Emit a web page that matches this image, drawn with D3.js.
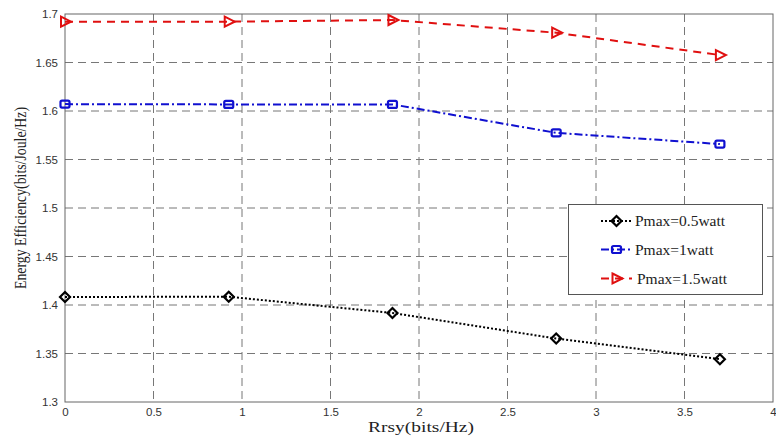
<!DOCTYPE html>
<html><head><meta charset="utf-8">
<script src="https://cdn.jsdelivr.net/npm/d3@7"></script>
<style>body{margin:0;background:#fff}svg{display:block}</style>
</head><body>
<svg id="c" width="776" height="436"></svg>
<script>
const xValues = [0, 0.925, 1.85, 2.775, 3.7];
const series05 = [1.4083, 1.4085, 1.3918, 1.3654, 1.3441];
const series1 = [1.6071, 1.6068, 1.6068, 1.5775, 1.5659];
const series15 = [1.6921, 1.6921, 1.6938, 1.6807, 1.6577];
const seriesNames = ["Pmax=0.5watt", "Pmax=1watt", "Pmax=1.5watt"];
const xTicks = [0, 0.5, 1, 1.5, 2, 2.5, 3, 3.5, 4];
const yTicks = [1.3, 1.35, 1.4, 1.45, 1.5, 1.55, 1.6, 1.65, 1.7];

const svg = d3.select("#c");
const L = 65, R = 773, T = 14, B = 402;
const x = d3.scaleLinear().domain([0, 4]).range([L, R]);
const y = d3.scaleLinear().domain([1.3, 1.7]).range([B, T]);

// grid
const g = svg.append("g");
g.selectAll(".vg").data(xTicks.slice(1, -1)).join("line")
  .attr("x1", d => x(d)).attr("x2", d => x(d)).attr("y1", T).attr("y2", B)
  .attr("stroke", "#777").attr("stroke-width", 1).attr("stroke-dasharray", "8,5");
g.selectAll(".hg").data(yTicks.slice(1, -1)).join("line")
  .attr("y1", d => y(d)).attr("y2", d => y(d)).attr("x1", L).attr("x2", R)
  .attr("stroke", "#777").attr("stroke-width", 1).attr("stroke-dasharray", "8,5");

// frame
svg.append("rect").attr("x", L).attr("y", T).attr("width", R - L).attr("height", B - T)
  .attr("fill", "none").attr("stroke", "#666").attr("stroke-width", 1);

// axes
const xAxis = d3.axisBottom(x).tickValues(xTicks).tickSize(0).tickPadding(6).tickFormat(d3.format("~g"));
const yAxis = d3.axisLeft(y).tickValues(yTicks).tickSize(0).tickPadding(7).tickFormat(d3.format("~g"));
const ax = svg.append("g").attr("transform", `translate(0,${B})`).call(xAxis);
const ay = svg.append("g").attr("transform", `translate(${L},0)`).call(yAxis);
[ax, ay].forEach(a => {
  a.select(".domain").remove();
  a.selectAll("text").attr("font-family", "Liberation Sans, Arial, sans-serif")
    .attr("font-size", 11.5).attr("fill", "#333");
});

const styles = [
  {data: series05, color: "#000", dash: "2,2", marker: "diamond"},
  {data: series1, color: "#1010d0", dash: "8,3,2,3", marker: "square"},
  {data: series15, color: "#e01010", dash: "8,6", marker: "triangle"}
];

function drawMarker(sel, type, color, cx, cy) {
  if (type === "diamond") {
    sel.append("path").attr("d", `M${cx},${cy-5}L${cx+5},${cy}L${cx},${cy+5}L${cx-5},${cy}Z`)
      .attr("fill", "none").attr("stroke", color).attr("stroke-width", 2.2);
  } else if (type === "square") {
    sel.append("rect").attr("x", cx - 4.5).attr("y", cy - 3.5).attr("width", 9).attr("height", 7).attr("rx", 1.5)
      .attr("fill", "none").attr("stroke", color).attr("stroke-width", 2.2);
  } else {
    sel.append("path").attr("d", `M${cx-4},${cy-5}L${cx+6},${cy}L${cx-4},${cy+5}Z`)
      .attr("fill", "none").attr("stroke", color).attr("stroke-width", 2);
  }
}

const line = d3.line().x((d, i) => x(xValues[i])).y(d => y(d));
styles.forEach(s => {
  svg.append("path").datum(s.data).attr("d", line).attr("fill", "none")
    .attr("stroke", s.color).attr("stroke-width", 2).attr("stroke-dasharray", s.dash);
  const mg = svg.append("g");
  s.data.forEach((v, i) => drawMarker(mg, s.marker, s.color, x(xValues[i]), y(v)));
});

// legend
const lg = svg.append("g");
lg.append("rect").attr("x", 568.5).attr("y", 204.5).attr("width", 194).attr("height", 90)
  .attr("fill", "#fff").attr("stroke", "#555").attr("stroke-width", 1);
const ly = [221, 249.5, 278.5];
styles.forEach((s, i) => {
  lg.append("line").attr("x1", 601).attr("x2", 632).attr("y1", ly[i]).attr("y2", ly[i])
    .attr("stroke", s.color).attr("stroke-width", 2).attr("stroke-dasharray", s.dash);
  drawMarker(lg, s.marker, s.color, 616.5, ly[i]);
  lg.append("text").attr("x", i === 2 ? 637 : 635).attr("y", ly[i] + 5).text(seriesNames[i])
    .attr("font-family", "Liberation Serif, Times New Roman, serif").attr("font-size", 15.5).attr("fill", "#222");
});

// axis labels
svg.append("text").attr("x", 421).attr("y", 432).attr("text-anchor", "middle")
  .attr("font-family", "Liberation Serif, Times New Roman, serif").attr("font-size", 15.5).attr("fill", "#222")
  .attr("textLength", 106).attr("lengthAdjust", "spacingAndGlyphs")
  .text("Rrsy(bits/Hz)");
svg.append("text").attr("transform", "translate(26,198) rotate(-90)").attr("text-anchor", "middle")
  .attr("font-family", "Liberation Serif, Times New Roman, serif").attr("font-size", 16).attr("fill", "#222")
  .attr("textLength", 182).attr("lengthAdjust", "spacingAndGlyphs")
  .text("Energy Efficiency(bits/Joule/Hz)");
</script>
</body></html>
